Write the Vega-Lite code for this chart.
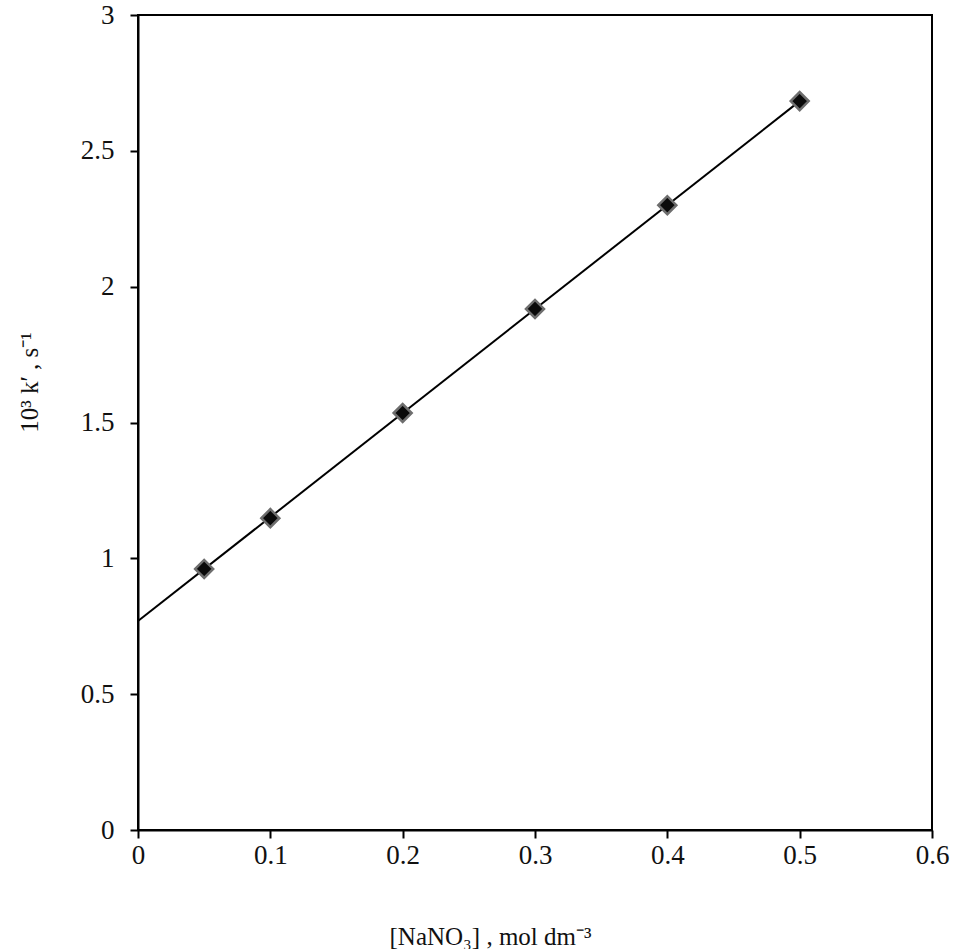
{
  "$schema": "https://vega.github.io/schema/vega-lite/v6.json",
  "width": 794,
  "height": 815,
  "autosize": "none",
  "padding": {"left": 138, "top": 15, "right": 22, "bottom": 119},
  "background": "white",
  "config": {
    "view": {"stroke": "black", "strokeWidth": 2},
    "font": "Liberation Serif",
    "axis": {
      "grid": false,
      "domainColor": "black",
      "domainWidth": 2,
      "tickColor": "black",
      "tickWidth": 2,
      "tickSize": 8,
      "labelFlush": false,
      "labelFont": "Liberation Serif",
      "labelFontSize": 27,
      "labelColor": "#111",
      "titleFont": "Liberation Serif",
      "titleFontSize": 25,
      "titleFontWeight": "normal",
      "titleColor": "#111"
    }
  },
  "datasets": {
    "measured": [
      {"conc": 0.05, "k": 0.961},
      {"conc": 0.1, "k": 1.148},
      {"conc": 0.2, "k": 1.535},
      {"conc": 0.3, "k": 1.918},
      {"conc": 0.4, "k": 2.30},
      {"conc": 0.5, "k": 2.683}
    ],
    "fit": [
      {"conc": 0, "k": 0.769},
      {"conc": 0.5, "k": 2.683}
    ]
  },
  "layer": [
    {
      "data": {"name": "fit"},
      "mark": {"type": "line", "color": "black", "strokeWidth": 2},
      "encoding": {
        "x": {
          "field": "conc",
          "type": "quantitative",
          "scale": {"domain": [0, 0.6], "nice": false},
          "axis": {
            "values": [0, 0.1, 0.2, 0.3, 0.4, 0.5, 0.6],
            "format": "~g",
            "labelPadding": 4,
            "title": "[NaNO₃] , mol dm⁻³",
            "titleX": 352,
            "titleY": 114,
            "titleAlign": "center",
            "titleBaseline": "alphabetic"
          }
        },
        "y": {
          "field": "k",
          "type": "quantitative",
          "scale": {"domain": [0, 3], "nice": false},
          "axis": {
            "values": [0, 0.5, 1, 1.5, 2, 2.5, 3],
            "format": "~g",
            "labelPadding": 16,
            "title": "10³ k′ , s⁻¹",
            "titleAngle": 270,
            "titleX": -109,
            "titleY": 367,
            "titleAlign": "center",
            "titleBaseline": "middle"
          }
        }
      }
    },
    {
      "data": {"name": "measured"},
      "mark": {
        "type": "point",
        "shape": "diamond",
        "filled": true,
        "size": 324,
        "fill": "#0a0a0a",
        "stroke": "#6e6e6e",
        "strokeWidth": 2.5,
        "opacity": 1
      },
      "encoding": {
        "x": {"field": "conc", "type": "quantitative"},
        "y": {"field": "k", "type": "quantitative"}
      }
    }
  ]
}
